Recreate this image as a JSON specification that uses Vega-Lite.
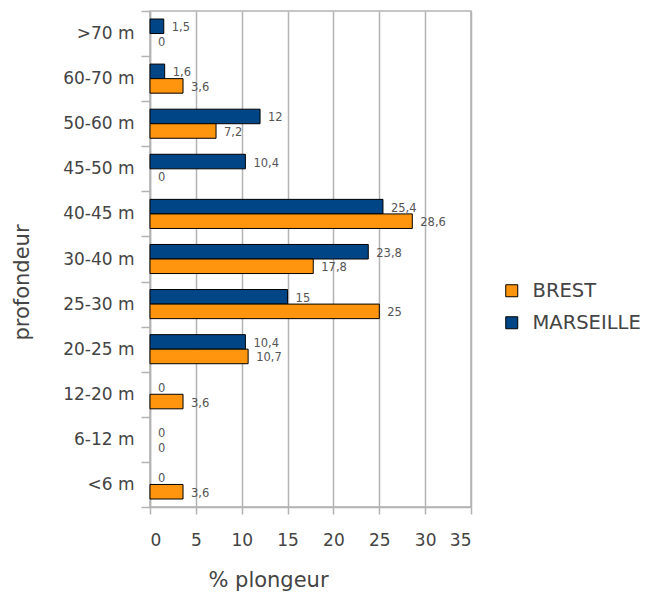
{
  "$schema": "https://vega.github.io/schema/vega-lite/v6.json",
  "autosize": "none",
  "padding": {"left": 150, "top": 11, "right": 177, "bottom": 85},
  "width": 321,
  "height": 496,
  "config": {
    "locale": {"number": {"decimal": ",", "thousands": " ", "grouping": [3], "currency": ["", " €"]}},
    "font": "DejaVu Sans",
    "view": {"stroke": "#b3b3b3", "strokeWidth": 1.5}
  },
  "data": {
    "values": [
      {"profondeur": ">70 m", "ville": "MARSEILLE", "pct": 1.5},
      {"profondeur": ">70 m", "ville": "BREST", "pct": 0},
      {"profondeur": "60-70 m", "ville": "MARSEILLE", "pct": 1.6},
      {"profondeur": "60-70 m", "ville": "BREST", "pct": 3.6},
      {"profondeur": "50-60 m", "ville": "MARSEILLE", "pct": 12},
      {"profondeur": "50-60 m", "ville": "BREST", "pct": 7.2},
      {"profondeur": "45-50 m", "ville": "MARSEILLE", "pct": 10.4},
      {"profondeur": "45-50 m", "ville": "BREST", "pct": 0},
      {"profondeur": "40-45 m", "ville": "MARSEILLE", "pct": 25.4},
      {"profondeur": "40-45 m", "ville": "BREST", "pct": 28.6},
      {"profondeur": "30-40 m", "ville": "MARSEILLE", "pct": 23.8},
      {"profondeur": "30-40 m", "ville": "BREST", "pct": 17.8},
      {"profondeur": "25-30 m", "ville": "MARSEILLE", "pct": 15},
      {"profondeur": "25-30 m", "ville": "BREST", "pct": 25},
      {"profondeur": "20-25 m", "ville": "MARSEILLE", "pct": 10.4},
      {"profondeur": "20-25 m", "ville": "BREST", "pct": 10.7},
      {"profondeur": "12-20 m", "ville": "MARSEILLE", "pct": 0},
      {"profondeur": "12-20 m", "ville": "BREST", "pct": 3.6},
      {"profondeur": "6-12 m", "ville": "MARSEILLE", "pct": 0},
      {"profondeur": "6-12 m", "ville": "BREST", "pct": 0},
      {"profondeur": "<6 m", "ville": "MARSEILLE", "pct": 0},
      {"profondeur": "<6 m", "ville": "BREST", "pct": 3.6}
    ]
  },
  "encoding": {
    "y": {
      "field": "profondeur",
      "type": "nominal",
      "sort": [">70 m", "60-70 m", "50-60 m", "45-50 m", "40-45 m", "30-40 m", "25-30 m", "20-25 m", "12-20 m", "6-12 m", "<6 m"],
      "scale": {"paddingInner": 0, "paddingOuter": 0},
      "axis": {
        "title": "profondeur",
        "titleFontSize": 21,
        "titleFontWeight": "normal",
        "titleColor": "#444444",
        "titleAngle": 270,
        "titleX": -128,
        "titleY": 271,
        "titleAlign": "center",
        "titleBaseline": "middle",
        "labelFontSize": 17,
        "labelColor": "#444444",
        "labelPadding": 7,
        "tickBand": "extent",
        "tickSize": 9,
        "tickColor": "#b3b3b3",
        "tickWidth": 1.5,
        "domainColor": "#b3b3b3",
        "domainWidth": 1.5,
        "grid": false
      }
    },
    "yOffset": {
      "field": "ville",
      "type": "nominal",
      "sort": ["MARSEILLE", "BREST"],
      "scale": {"paddingInner": 0, "paddingOuter": 0.55}
    },
    "x": {
      "field": "pct",
      "type": "quantitative",
      "scale": {"domain": [0, 35], "nice": false},
      "axis": {
        "title": "% plongeur",
        "titleFontSize": 21,
        "titleFontWeight": "normal",
        "titleColor": "#444444",
        "titleX": 118,
        "titleY": 73,
        "titleAlign": "center",
        "titleBaseline": "middle",
        "values": [0, 5, 10, 15, 20, 25, 30, 35],
        "format": "d",
        "labelFontSize": 17,
        "labelColor": "#444444",
        "labelPadding": 18,
        "tickSize": 7,
        "tickColor": "#b3b3b3",
        "tickWidth": 1.5,
        "domainColor": "#b3b3b3",
        "domainWidth": 1.5,
        "gridColor": "#b3b3b3",
        "gridWidth": 1.5,
        "gridOpacity": 1
      }
    }
  },
  "layer": [
    {
      "transform": [{"filter": "datum.pct > 0"}],
      "mark": {"type": "bar", "stroke": "#000000", "strokeWidth": 1},
      "encoding": {
        "color": {
          "field": "ville",
          "type": "nominal",
          "scale": {"domain": ["BREST", "MARSEILLE"], "range": ["#ff950e", "#004586"]},
          "legend": {
            "title": null,
            "orient": "none",
            "legendX": 352,
            "legendY": 270,
            "symbolType": "square",
            "symbolSize": 144,
            "symbolStrokeColor": "#000000",
            "symbolStrokeWidth": 1,
            "symbolOpacity": 1,
            "labelFontSize": 19.5,
            "labelColor": "#444444",
            "labelOffset": 11,
            "rowPadding": 11
          }
        }
      }
    },
    {
      "mark": {"type": "text", "align": "left", "baseline": "middle", "dx": 8, "dy": 2, "fontSize": 11.5, "color": "#555555"},
      "encoding": {
        "text": {"field": "pct", "type": "quantitative", "format": ".4~g"}
      }
    }
  ]
}
